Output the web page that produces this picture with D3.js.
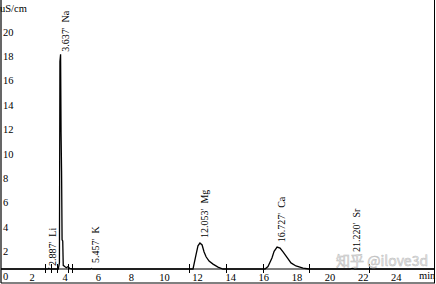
<!DOCTYPE html>
<html><head><meta charset="utf-8">
<script src="https://cdn.jsdelivr.net/npm/d3@7"></script>
<style>html,body{margin:0;padding:0;background:#fff;}svg{display:block;}</style>
</head><body>
<script>
// ---- data ----
const yTicks = [0,2,4,6,8,10,12,14,16,18,20];
const xTicks = [2,4,6,8,10,12,14,16,18,20,22,24];
const traceTime  = [0, 2.80, 2.85, 2.89, 2.95, 3.46, 3.53, 3.56, 3.60, 3.63, 3.66, 3.69, 3.73, 3.76, 3.85, 3.95, 4.05, 4.15, 4.30,
  5.40, 5.46, 5.55, 11.50, 11.60, 11.78, 11.90, 12.02, 12.15, 12.27, 12.39, 12.57, 12.81, 13.11, 13.41,
  15.95, 16.13, 16.37, 16.50, 16.68, 16.86, 17.04, 17.28, 17.52, 17.82, 18.25, 18.60, 21.10, 21.22, 21.35, 26.16];
const traceValue = [0, 0, 0, 0.06, 0, 0, 0.5, 17.0, 17.6, 11.1, 8.0, 2.4, 2.3, 0.3, 0.2, 0.1, 0.2, 0.05, 0,
  0, 0.05, 0, 0, 0, 1.15, 1.9, 2.13, 1.97, 1.4, 1.0, 0.65, 0.4, 0.15, 0,
  0, 0.2, 0.9, 1.45, 1.8, 1.72, 1.4, 0.95, 0.5, 0.25, 0.07, 0, 0, 0.04, 0, 0];
const peakTimes  = [2.887, 3.637, 5.457, 12.053, 16.727, 21.220];
const peakNames  = ["Li", "Na", "K", "Mg", "Ca", "Sr"];
const labelLevel = [0.25, 17.8, 0.5, 2.55, 2.2, 1.4];
const markerTimes = [2.66, 3.02, 3.38, 4.05, 4.29, 11.36, 13.60, 15.83, 18.61, 22.24];

// ---- drawing ----
const W = 436, H = 284;
const svg = d3.select("body").append("svg").attr("width", W).attr("height", H);
const font = "'Liberation Serif','Times New Roman',serif";

const x = d3.scaleLinear().domain([0, 26.16]).range([1, 434]);
const y = d3.scaleLinear().domain([0, 22]).range([269, 0.6]);

// frame
svg.append("line").attr("x1",1).attr("x2",1).attr("y1",0).attr("y2",283).attr("stroke","#000").attr("stroke-width",1.2);
svg.append("line").attr("x1",1).attr("x2",435).attr("y1",283).attr("y2",283).attr("stroke","#000");
svg.append("line").attr("x1",434.5).attr("x2",434.5).attr("y1",0).attr("y2",283).attr("stroke","#000");

// baseline axis
svg.append("line").attr("x1",x(0)).attr("x2",x(26.16)).attr("y1",y(0)).attr("y2",y(0)).attr("stroke","#000");

// y tick labels
svg.append("g").selectAll("text").data(yTicks).join("text")
  .attr("x", 3).attr("y", d => y(d) + 10.5)
  .attr("font-family", font).attr("font-size", 10.5).attr("fill","#000")
  .text(d => d);
svg.append("text").attr("x", 0).attr("y", 12).attr("font-family", font).attr("font-size", 10.5).text("uS/cm");

// x tick labels
svg.append("g").selectAll("text").data(xTicks).join("text")
  .attr("x", d => x(d) - 2).attr("y", 280.5).attr("text-anchor","middle")
  .attr("font-family", font).attr("font-size", 10.5).attr("fill","#000")
  .text(d => d);
svg.append("text").attr("x", 419).attr("y", 279).attr("font-family", font).attr("font-size", 10.5).text("min");

// integration markers
svg.append("g").selectAll("line").data(markerTimes).join("line")
  .attr("x1", d => Math.round(x(d)) + 0.5).attr("x2", d => Math.round(x(d)) + 0.5)
  .attr("y1", y(0) - 5).attr("y2", y(0) + 4).attr("stroke","#000");

// trace
const pts = traceTime.map((t,i) => [t, traceValue[i]]);
svg.append("path").datum(pts)
  .attr("d", d3.line().x(d => x(d[0])).y(d => y(d[1])))
  .attr("fill","none").attr("stroke","#000").attr("stroke-width",1.3);

// peak labels
svg.append("g").selectAll("text").data(peakTimes).join("text")
  .attr("transform", (d,i) => `translate(${x(d) + 7.5},${y(labelLevel[i])}) rotate(-90)`)
  .attr("font-family", font).attr("font-size", 10).attr("fill","#000")
  .style("white-space","pre")
  .text((d,i) => d.toFixed(3) + "'  " + peakNames[i]);

// watermark
svg.append("text").attr("x", 336).attr("y", 266)
  .attr("font-family","'Noto Sans CJK SC','Noto Sans',sans-serif").attr("font-size", 14)
  .attr("fill","#e6e6e6").attr("stroke","#b0b0b0").attr("stroke-width",0.5).attr("opacity",0.85)
  .text("知乎 @ilove3d");
</script>
</body></html>
